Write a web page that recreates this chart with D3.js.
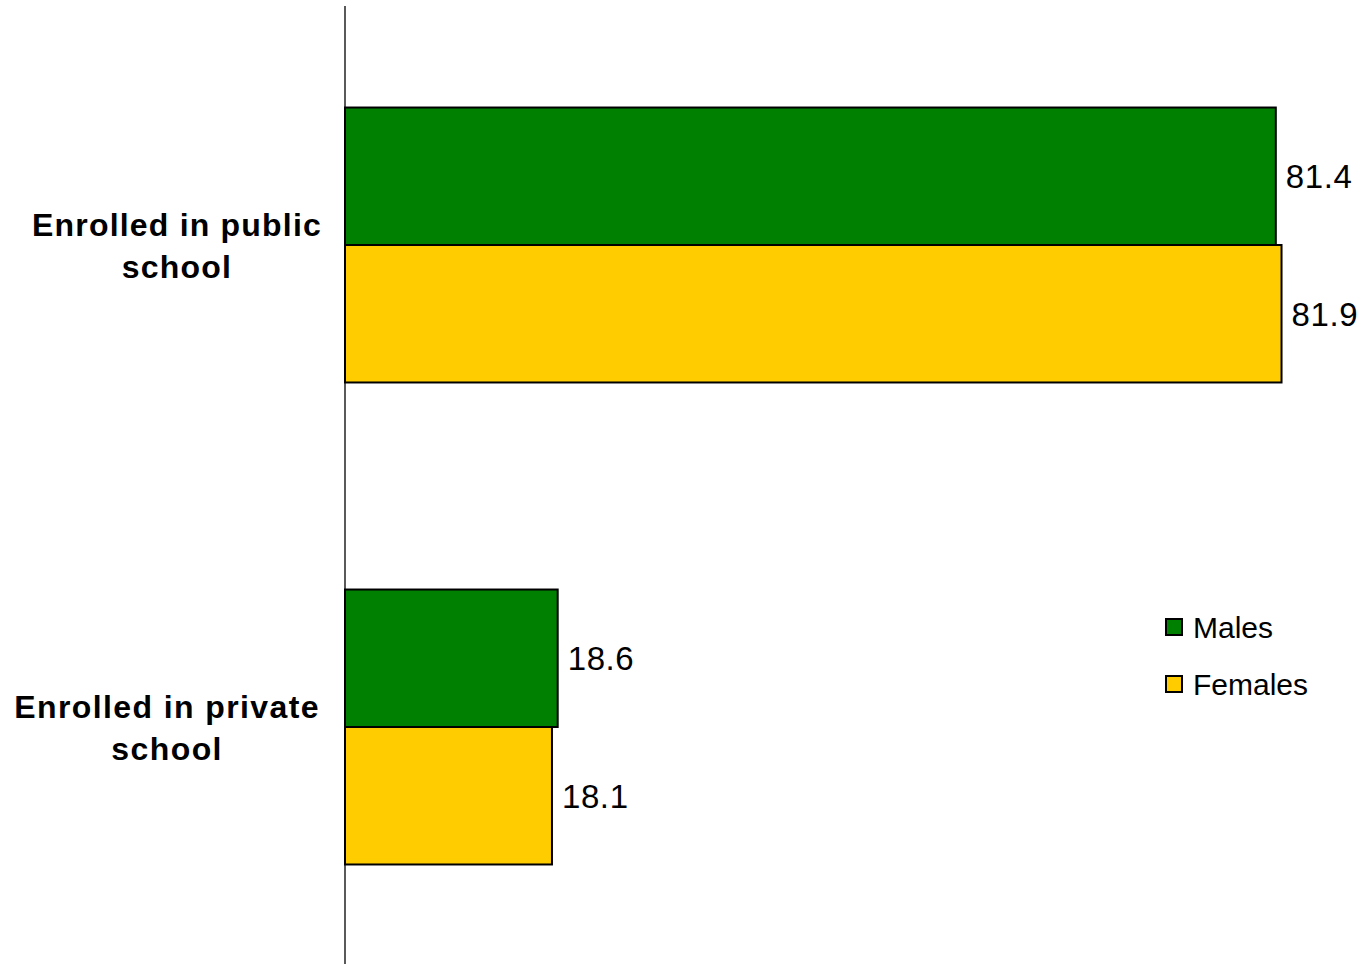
<!DOCTYPE html>
<html><head><meta charset="utf-8">
<script src="https://cdn.jsdelivr.net/npm/d3@7"></script>
<style>body{margin:0;background:#fff}svg{display:block}</style>
</head><body>
<script>
const categories = ["Enrolled in public school", "Enrolled in private school"];
const categoryLines = [["Enrolled in public", "school"], ["Enrolled in private", "school"]];
const series = ["Males", "Females"];
const males = [81.4, 18.6];
const females = [81.9, 18.1];
const colors = ["#008000", "#FFCC00"];

const W = 1361, H = 964;
const svg = d3.select("body").append("svg").attr("width", W).attr("height", H);

const x = d3.scaleLinear().domain([0, 100]).range([345, 345 + 100 * 11.435]);
const y = d3.scaleBand().domain(categories).range([4, 968]).padding(0);
const yi = d3.scaleBand().domain(series).range([0, y.bandwidth()]).paddingInner(0).paddingOuter(0.753);

const data = [];
categories.forEach((c, i) => {
  data.push({cat: c, s: "Males", v: males[i], color: colors[0]});
  data.push({cat: c, s: "Females", v: females[i], color: colors[1]});
});

svg.selectAll("rect.bar").data(data).enter().append("rect")
  .attr("class", "bar")
  .attr("x", x(0))
  .attr("y", d => y(d.cat) + yi(d.s))
  .attr("width", d => x(d.v) - x(0))
  .attr("height", yi.bandwidth())
  .attr("fill", d => d.color)
  .attr("stroke", "#000").attr("stroke-width", 2);

svg.selectAll("text.val").data(data).enter().append("text")
  .attr("class", "val")
  .attr("x", d => x(d.v) + 10)
  .attr("y", d => y(d.cat) + yi(d.s) + yi.bandwidth() / 2)
  .attr("dy", "0.36em")
  .attr("font-family", "Liberation Sans, Arial, sans-serif")
  .attr("font-size", 33)
  .attr("letter-spacing", 0.6)
  .attr("fill", "#000")
  .text(d => d.v.toFixed(1));

// axis line
svg.append("line").attr("x1", x(0)).attr("x2", x(0)).attr("y1", 6).attr("y2", H)
  .attr("stroke", "#000").attr("stroke-width", 1.3);

// category labels
categories.forEach((c, i) => {
  const g = svg.append("g");
  const cy = y(c) + y.bandwidth() / 2;
  const lines = categoryLines[i];
  const texts = lines.map((ln, j) => g.append("text")
    .attr("y", cy - 9 + j * 42)
    .attr("text-anchor", "middle")
    .attr("font-family", "Liberation Sans, Arial, sans-serif")
    .attr("font-weight", "bold")
    .attr("font-size", 32)
    .attr("letter-spacing", i === 0 ? 1.2 : 1.4)
    .attr("fill", "#000")
    .text(ln));
  const maxW = d3.max(texts, t => t.node().getComputedTextLength());
  const cx = (i === 0 ? 322 : 320) - maxW / 2;
  texts.forEach(t => t.attr("x", cx));
});

// legend
const legend = svg.append("g").attr("transform", "translate(1166,0)");
series.forEach((s, i) => {
  const ly = 627 + i * 57;
  legend.append("rect").attr("x", 0).attr("y", ly - 8).attr("width", 16).attr("height", 16)
    .attr("fill", colors[i]).attr("stroke", "#000").attr("stroke-width", 2);
  legend.append("text").attr("x", 27).attr("y", ly).attr("dy", "0.36em")
    .attr("font-family", "Liberation Sans, Arial, sans-serif")
    .attr("font-size", 30).attr("fill", "#000").text(s);
});
</script>
</body></html>
